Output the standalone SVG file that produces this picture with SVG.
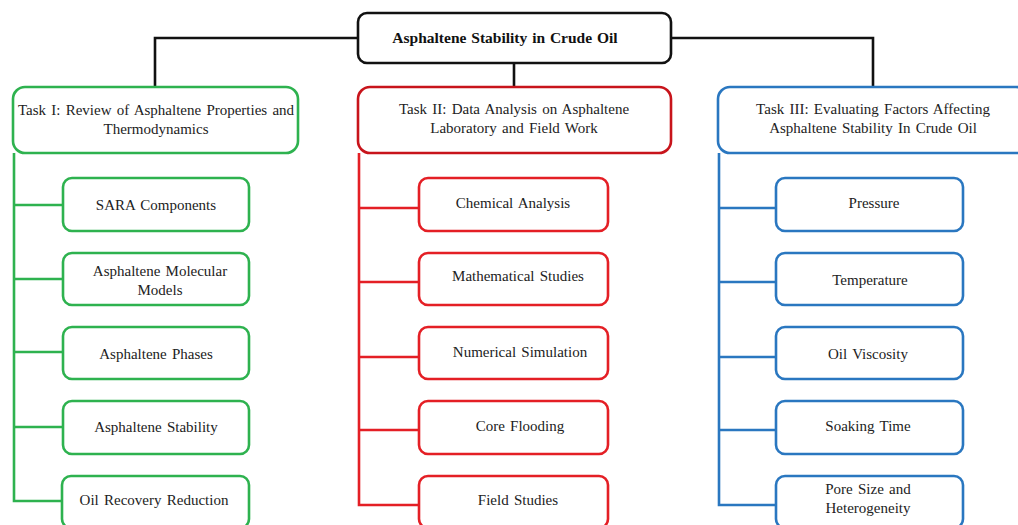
<svg xmlns="http://www.w3.org/2000/svg" width="1018" height="525" viewBox="0 0 1018 525">
<style>
text{font-family:"Liberation Serif","Times New Roman",serif;font-size:15px;fill:#222;text-anchor:middle;word-spacing:1.5px}
.root{font-weight:bold;font-size:15.5px;fill:#111;word-spacing:1px}
.box{fill:#fff;stroke-width:2.6}
.g{stroke:#2eb24f}.r{stroke:#e41f25}.rh{stroke:#c8141b}.b{stroke:#2a77c0}.k{stroke:#111}
.ln{fill:none;stroke-width:2.6}
</style>
<rect width="1018" height="525" fill="#fff"/>
<g id="connectors">
<path class="ln k" d="M358 38H155V87M671 38H873V87M514 63V87"/>
<path class="ln g" d="M14 153V501H63M14 205H63M14 279H63M14 352H63M14 427H63"/>
<path class="ln r" d="M359 153V505H419M359 208H419M359 282H419M359 357H419M359 430H419"/>
<path class="ln b" d="M719 153V505H776M719 208H776M719 282H776M719 357H776M719 430H776"/>
</g>
<g id="root"><rect class="box k" x="358" y="13" width="313" height="50" rx="9" stroke-width="3"/><text class="root" x="505" y="43">Asphaltene Stability in Crude Oil</text></g>
<g id="task1"><rect class="box g" x="13" y="87" width="285" height="66" rx="12"/><text x="156" y="115">Task I: Review of Asphaltene Properties and</text><text x="156" y="134">Thermodynamics</text></g>
<g id="task2"><rect class="box rh" x="358" y="87" width="313" height="66" rx="12"/><text x="514" y="114">Task II: Data Analysis on Asphaltene</text><text x="514" y="133">Laboratory and Field Work</text></g>
<g id="task3"><rect class="box b" x="718" y="87" width="310" height="66" rx="12"/><text x="873" y="114">Task III: Evaluating Factors Affecting</text><text x="873" y="133">Asphaltene Stability In Crude Oil</text></g>
<g id="g1"><rect class="box g" x="63" y="178" width="186" height="53" rx="9"/><text x="156" y="210">SARA Components</text></g>
<g id="g2"><rect class="box g" x="63" y="253" width="186" height="52" rx="9"/><text x="160" y="276">Asphaltene Molecular</text><text x="160" y="295">Models</text></g>
<g id="g3"><rect class="box g" x="63" y="327" width="186" height="52" rx="9"/><text x="156" y="359">Asphaltene Phases</text></g>
<g id="g4"><rect class="box g" x="63" y="401" width="186" height="53" rx="9"/><text x="156" y="432">Asphaltene Stability</text></g>
<g id="g5"><rect class="box g" x="62" y="476" width="187" height="52" rx="9"/><text x="154" y="505">Oil Recovery Reduction</text></g>
<g id="r1"><rect class="box r" x="419" y="178" width="189" height="53" rx="9"/><text x="513" y="208">Chemical Analysis</text></g>
<g id="r2"><rect class="box r" x="419" y="253" width="189" height="52" rx="9"/><text x="518" y="281">Mathematical Studies</text></g>
<g id="r3"><rect class="box r" x="419" y="327" width="189" height="52" rx="9"/><text x="520" y="357">Numerical Simulation</text></g>
<g id="r4"><rect class="box r" x="419" y="401" width="189" height="53" rx="9"/><text x="520" y="431">Core Flooding</text></g>
<g id="r5"><rect class="box r" x="419" y="476" width="189" height="52" rx="9"/><text x="518" y="505">Field Studies</text></g>
<g id="b1"><rect class="box b" x="776" y="178" width="187" height="53" rx="9"/><text x="874" y="208">Pressure</text></g>
<g id="b2"><rect class="box b" x="776" y="253" width="187" height="52" rx="9"/><text x="870" y="285">Temperature</text></g>
<g id="b3"><rect class="box b" x="776" y="327" width="187" height="52" rx="9"/><text x="868" y="359">Oil Viscosity</text></g>
<g id="b4"><rect class="box b" x="776" y="401" width="187" height="53" rx="9"/><text x="868" y="431">Soaking Time</text></g>
<g id="b5"><rect class="box b" x="776" y="476" width="187" height="52" rx="9"/><text x="868" y="494">Pore Size and</text><text x="868" y="513">Heterogeneity</text></g>
</svg>
